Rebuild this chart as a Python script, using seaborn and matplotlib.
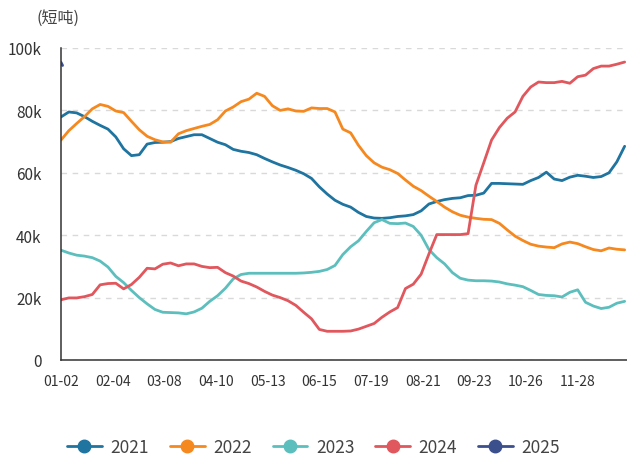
import pandas as pd
import numpy as np
import seaborn as sns
import matplotlib
matplotlib.use("Agg")
import matplotlib.pyplot as plt
from matplotlib.lines import Line2D

sns.set_theme(style="white")
plt.rcParams['font.family'] = ['Noto Sans CJK SC', 'DejaVu Sans']

# x: sampled every 5 days starting 01-02 (calendar of a leap year)
start = "2024-01-02"
step_days = 5

v2021 = [77.9, 79.5, 79.2, 78.0, 76.5, 75.2, 74.0, 71.5, 67.7, 65.5, 65.8, 69.2, 69.7, 69.8, 70.0,
         71.0, 71.6, 72.2, 72.2, 71.0, 69.8, 69.0, 67.5, 66.9, 66.5, 65.8, 64.6, 63.5, 62.5, 61.7,
         60.8, 59.7, 58.2, 55.5, 53.2, 51.2, 49.9, 49.0, 47.3, 46.0, 45.5, 45.4, 45.6, 46.0, 46.2,
         46.6, 47.8, 50.0, 50.8, 51.4, 51.8, 52.0, 52.7, 52.8, 53.5, 56.6, 56.6, 56.5, 56.4, 56.3,
         57.5, 58.5, 60.2, 58.0, 57.5, 58.6, 59.2, 58.9, 58.5, 58.8, 60.0, 63.5, 68.5]
v2022 = [70.5, 73.5, 75.8, 78.0, 80.5, 81.9, 81.3, 79.8, 79.3, 76.5, 73.8, 71.7, 70.6, 69.9, 69.8,
         72.5, 73.5, 74.2, 74.9, 75.5, 77.0, 79.8, 81.1, 82.8, 83.6, 85.5, 84.5, 81.5, 80.0, 80.5,
         79.8, 79.7, 80.8, 80.6, 80.6, 79.5, 74.0, 72.8, 68.8, 65.5, 63.2, 61.8, 61.0, 59.8, 57.7,
         55.7, 54.3, 52.5, 50.8, 49.0, 47.5, 46.4, 45.8, 45.4, 45.1, 45.0, 43.8, 41.7, 39.7, 38.3,
         37.1, 36.5, 36.2, 36.0, 37.2, 37.8, 37.3, 36.3, 35.4, 35.0, 35.9, 35.5, 35.3]
v2023 = [35.2, 34.3, 33.6, 33.3, 32.8, 31.7, 29.8, 26.8, 24.8, 22.3, 20.0, 18.0, 16.2, 15.3, 15.2,
         15.1, 14.8, 15.4, 16.6, 18.8, 20.6, 23.0, 26.0, 27.4, 27.8, 27.8, 27.8, 27.8, 27.8, 27.8,
         27.8, 27.9, 28.1, 28.4, 29.0, 30.3, 33.8, 36.3, 38.2, 41.2, 44.0, 45.0, 43.8, 43.7, 43.9,
         42.8, 40.0, 35.4, 32.8, 30.8, 28.0, 26.2, 25.6, 25.4, 25.4, 25.3, 25.0, 24.4, 24.0, 23.5,
         22.3, 21.0, 20.7, 20.6, 20.2, 21.7, 22.5, 18.5, 17.3, 16.5, 16.9, 18.2, 18.8]
v2024 = [19.3, 19.9, 19.9, 20.3, 21.0, 24.1, 24.5, 24.6, 22.8, 24.2, 26.5, 29.4, 29.2, 30.7, 31.1,
         30.2, 30.8, 30.8, 30.0, 29.6, 29.7, 28.0, 26.9, 25.3, 24.5, 23.4, 22.0, 20.8, 20.0, 19.0,
         17.5, 15.3, 13.2, 9.8, 9.2, 9.2, 9.2, 9.3, 9.9, 10.8, 11.7, 13.7, 15.4, 16.8, 22.9,
         24.3, 27.5, 34.0, 40.2, 40.2, 40.2, 40.2, 40.5, 56.0, 63.2, 70.5, 74.5, 77.5, 79.5, 84.5,
         87.5, 89.1, 88.9, 88.9, 89.3, 88.7, 90.8, 91.3, 93.4, 94.2, 94.2, 94.8, 95.5]
dates2025 = ["2024-01-02", "2024-01-03"]
v2025 = [95.4, 94.4]

years = ["2021", "2022", "2023", "2024", "2025"]
colors = ["#1f74a0", "#f5891f", "#5cbfbd", "#e0575d", "#3c4f8d"]

tick_labels = ["01-02", "02-04", "03-08", "04-10", "05-13", "06-15",
               "07-19", "08-21", "09-23", "10-26", "11-28"]
tick_step = 33
y_ticks = [0, 20000, 40000, 60000, 80000, 100000]
y_labels = ["0", "20k", "40k", "60k", "80k", "100k"]

frames = []
grid = pd.date_range(start, periods=len(v2021), freq=f"{step_days}D")
for yr, vals in zip(years[:4], [v2021, v2022, v2023, v2024]):
    frames.append(pd.DataFrame({"date": grid, "value": np.array(vals) * 1000, "year": yr}))
frames.append(pd.DataFrame({"date": pd.to_datetime(dates2025), "value": np.array(v2025) * 1000, "year": "2025"}))
df = pd.concat(frames, ignore_index=True)

fig = plt.figure(figsize=(6.27, 4.56), dpi=100)
ax = fig.add_axes([61/627, 95/456, 1 - 61/627, (361-49)/456])

sns.lineplot(data=df, x="date", y="value", hue="year", palette=dict(zip(years, colors)),
             linewidth=2.0, legend=False, ax=ax, estimator=None)

t0 = pd.Timestamp(start)
ax.set_xlim(t0, t0 + pd.Timedelta(days=361.5))
ax.set_ylim(0, 100000)
ax.set_xticks([t0 + pd.Timedelta(days=tick_step * i) for i in range(len(tick_labels))])
ax.set_xticklabels(tick_labels)
ax.set_yticks(y_ticks)
ax.set_yticklabels(y_labels)
ax.set_xlabel("")
ax.set_ylabel("")

for s in ["top", "right"]:
    ax.spines[s].set_visible(False)
for s in ["left", "bottom"]:
    ax.spines[s].set_color("#333333")
    ax.spines[s].set_linewidth(1.1)
ax.tick_params(axis="both", which="major", length=6, width=1, color="#333333",
               labelcolor="#333333", direction="out")
ax.tick_params(axis="x", pad=4, labelsize=10)
ax.tick_params(axis="y", pad=8, labelsize=11)
ax.yaxis.grid(True, color="#d9d9d9", linestyle=(0, (4, 4)), linewidth=1)
ax.xaxis.grid(False)
ax.set_axisbelow(True)

fig.text(37/627, 1 - 18/456, "(短吨)", fontsize=11.5, color="#444444", va="center", ha="left")

handles = [Line2D([0], [0], color=c, lw=2, marker="o", markersize=9) for c in colors]
fig.legend(handles, years, loc="center", bbox_to_anchor=(0.5, 1 - 448/456), ncol=5,
           frameon=False, fontsize=12.5, handlelength=2.0, columnspacing=1.2, handletextpad=0.5,
           labelcolor="#444444")

fig.savefig("out.png", dpi=100)
